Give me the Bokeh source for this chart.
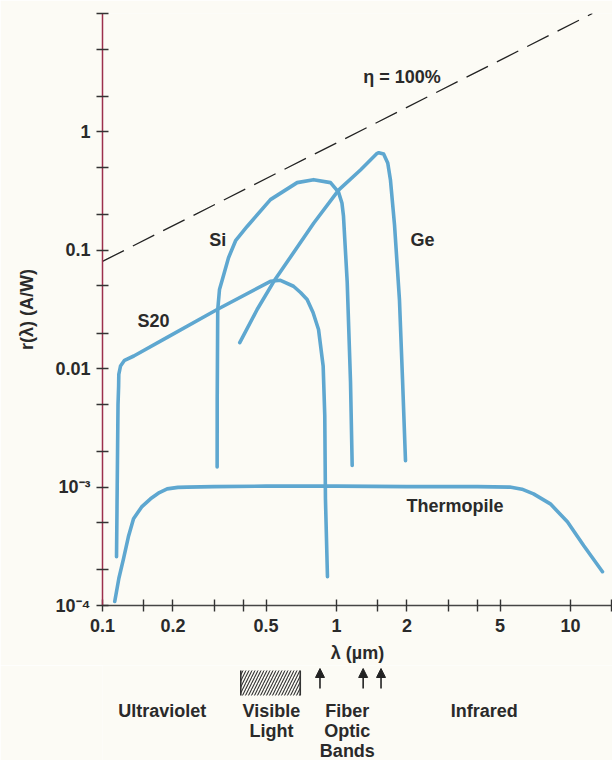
from bokeh.plotting import figure
from bokeh.models import Range1d, FixedTicker, CustomJSTickFormatter, Arrow, NormalHead, ColumnDataSource
from bokeh.layouts import column
from bokeh.embed import file_html
from bokeh.resources import INLINE
from bokeh.core.properties import value

# ---------------- data ----------------
thermo_wl = [0.1128, 0.1175, 0.123, 0.129, 0.1357, 0.147, 0.1604, 0.175, 0.189, 0.21, 0.23,
             0.3, 0.5, 1.0, 2.0, 4.0, 5.5, 6.2, 6.95, 8.2, 9.7, 11.4, 13.7]
thermo_r = [1.08e-4, 1.7e-4, 2.49e-4, 3.8e-4, 5.4e-4, 6.8e-4, 7.96e-4, 9.0e-4, 9.66e-4, 9.95e-4, 1.0e-3,
            1.01e-3, 1.02e-3, 1.02e-3, 1.01e-3, 1.01e-3, 1.0e-3, 9.6e-4, 8.77e-4, 7.22e-4, 5.1e-4, 3.2e-4, 1.93e-4]

s20_wl = [0.1148, 0.1165, 0.1172, 0.1174, 0.1194, 0.1242, 0.1361, 0.189, 0.309, 0.522, 0.576,
          0.655, 0.702, 0.749, 0.794, 0.838, 0.877, 0.891, 0.897, 0.915]
s20_r = [2.58e-4, 5.0e-3, 7.15e-3, 8.97e-3, 0.01054, 0.01177, 0.0128, 0.0184, 0.0316, 0.0547, 0.0558,
         0.0497, 0.0440, 0.0384, 0.0298, 0.02145, 0.01054, 4.0e-3, 7.96e-4, 1.75e-4]

si_wl = [0.309, 0.3092, 0.3108, 0.3162, 0.3253, 0.3456, 0.3705, 0.415, 0.522, 0.679, 0.798,
         0.943, 1.02, 1.055, 1.071, 1.111, 1.148, 1.167]
si_r = [1.48e-3, 5.53e-3, 0.0316, 0.0466, 0.0566, 0.0866, 0.1205, 0.159, 0.268, 0.373, 0.395,
        0.373, 0.310, 0.251, 0.195, 0.0542, 7.68e-3, 1.52e-3]

ge_wl = [0.386, 0.458, 0.540, 0.800, 1.023, 1.266, 1.492, 1.516, 1.59, 1.656, 1.70, 1.770,
         1.858, 1.915, 1.972]
ge_r = [0.0166, 0.0316, 0.0547, 0.170, 0.324, 0.477, 0.659, 0.667, 0.650, 0.546, 0.395, 0.164,
        0.0384, 8.14e-3, 1.67e-3]

eta_wl = [0.1, 12.4]
eta_r = [0.0806, 10.0]

curve_labels = ["Si", "Ge", "S20", "Thermopile", "η = 100%"]
curve_label_wl = [0.286, 2.07, 0.141, 1.99, 1.30]
curve_label_r = [0.1228, 0.1228, 0.0252, 6.95e-4, 2.89]

x_ticks = [0.1, 0.15, 0.2, 0.3, 0.4, 0.5, 1, 1.5, 2, 3, 4, 5, 10, 15]
x_labels = ["0.1", "", "0.2", "", "", "0.5", "1", "", "2", "", "", "5", "10", ""]
y_ticks = [1e-4, 2e-4, 5e-4, 1e-3, 2e-3, 5e-3, 0.01, 0.02, 0.05, 0.1, 0.2, 0.5, 1, 2, 5, 10]
y_labels = ["10⁻⁴", "", "", "10⁻³", "", "", "0.01", "", "", "0.1", "", "", "1", "", "", ""]

visible_band = [0.39, 0.70]
fiber_bands = [0.85, 1.3, 1.55]
region_names = ["Ultraviolet", "Visible\nLight", "Fiber\nOptic\nBands", "Infrared"]
region_wl = [0.18, 0.527, 1.113, 4.28]

# ---------------- styles ----------------
FONT = "Liberation Sans"
BG = "#fcfbf5"
BLUE = "#5ea7d0"
INK = "#2a2a2a"
FS = "18px"

fmt_code = """
for (let i = 0; i < vals.length; i++) {
  if (Math.abs(tick / vals[i] - 1) < 1e-6) { return labs[i]; }
}
return "";
"""

xr = Range1d(0.1, 15.12)

p = figure(width=612, height=665, x_axis_type="log", y_axis_type="log",
           x_range=xr, y_range=Range1d(1e-4, 10),
           output_backend="svg", toolbar_location=None,
           min_border_left=102, min_border_right=0, min_border_top=13, min_border_bottom=58,
           background_fill_color=BG, border_fill_color=BG, outline_line_color=None)
p.grid.visible = False

p.xaxis.ticker = FixedTicker(ticks=x_ticks, minor_ticks=[])
p.yaxis.ticker = FixedTicker(ticks=y_ticks, minor_ticks=[])
p.xaxis.formatter = CustomJSTickFormatter(args=dict(vals=x_ticks, labs=x_labels), code=fmt_code)
p.yaxis.formatter = CustomJSTickFormatter(args=dict(vals=y_ticks, labs=y_labels), code=fmt_code)

for ax in (p.xaxis[0], p.yaxis[0]):
    ax.major_tick_in = 6
    ax.major_tick_out = 6
    ax.minor_tick_line_color = None
    ax.major_tick_line_color = "#333333"
    ax.major_tick_line_width = 1.4
    ax.axis_line_width = 1.5
    ax.major_label_text_font = FONT
    ax.major_label_text_font_style = "bold"
    ax.major_label_text_font_size = FS
    ax.major_label_text_color = INK
    ax.axis_label_text_font = FONT
    ax.axis_label_text_font_style = "bold"
    ax.axis_label_text_font_size = FS
    ax.axis_label_text_color = INK

p.xaxis.axis_line_color = "#454545"
p.yaxis.axis_line_color = "#9c2f4c"
p.xaxis.axis_label = "λ (µm)"
p.yaxis.axis_label = "r(λ) (A/W)"
p.xaxis.major_label_standoff = 7
p.yaxis.major_label_standoff = 6
p.xaxis.axis_label_standoff = 8
p.yaxis.axis_label_standoff = 15

p.line(eta_wl, eta_r, line_color="#222222", line_width=1.3, line_dash="24 10")
for wl, r in ((thermo_wl, thermo_r), (s20_wl, s20_r), (si_wl, si_r), (ge_wl, ge_r)):
    p.line(wl, r, line_color=BLUE, line_width=3.6, line_join="round", line_cap="round")

p.text(x=curve_label_wl, y=curve_label_r, text=curve_labels,
       text_font=value(FONT), text_font_style="bold", text_font_size=FS,
       text_color=INK, text_align="left", text_baseline="middle")

# ---------------- bottom strip: spectral regions ----------------
q = figure(width=612, height=95, x_axis_type="log", x_range=xr, y_range=Range1d(0, 95),
           output_backend="svg", toolbar_location=None,
           min_border_left=102, min_border_right=0, min_border_top=0, min_border_bottom=0,
           x_axis_location=None, y_axis_location=None,
           background_fill_color=BG, border_fill_color=BG, outline_line_color=None)
q.grid.visible = False

q.quad(left=[visible_band[0]], right=[visible_band[1]], bottom=[65], top=[90],
       fill_color=None, line_color=None,
       hatch_pattern="/", hatch_color="#333333", hatch_scale=6, hatch_weight=1.1)
q.segment(x0=visible_band, x1=visible_band, y0=[65, 65], y1=[90, 90],
          line_color="#333333", line_width=1.6)

arrow_src = ColumnDataSource(dict(x=fiber_bands, y0=[72] * len(fiber_bands), y1=[92] * len(fiber_bands)))
q.add_layout(Arrow(end=NormalHead(size=9, fill_color="#222222", line_color="#222222"),
                   x_start="x", y_start="y0", x_end="x", y_end="y1", source=arrow_src,
                   line_color="#222222", line_width=1.6))

# one text row per line of each region name
row_y = [49.5, 29.5, 9.5]
tx, ty, tt = [], [], []
for wl, name in zip(region_wl, region_names):
    for j, part in enumerate(name.split("\n")):
        tx.append(wl)
        ty.append(row_y[j])
        tt.append(part)
q.text(x=tx, y=ty, text=tt,
       text_font=value(FONT), text_font_style="bold", text_font_size=FS,
       text_color=INK, text_align="center", text_baseline="middle")

layout = column(p, q, spacing=0)
open("out.html", "w").write(file_html(layout, INLINE))
